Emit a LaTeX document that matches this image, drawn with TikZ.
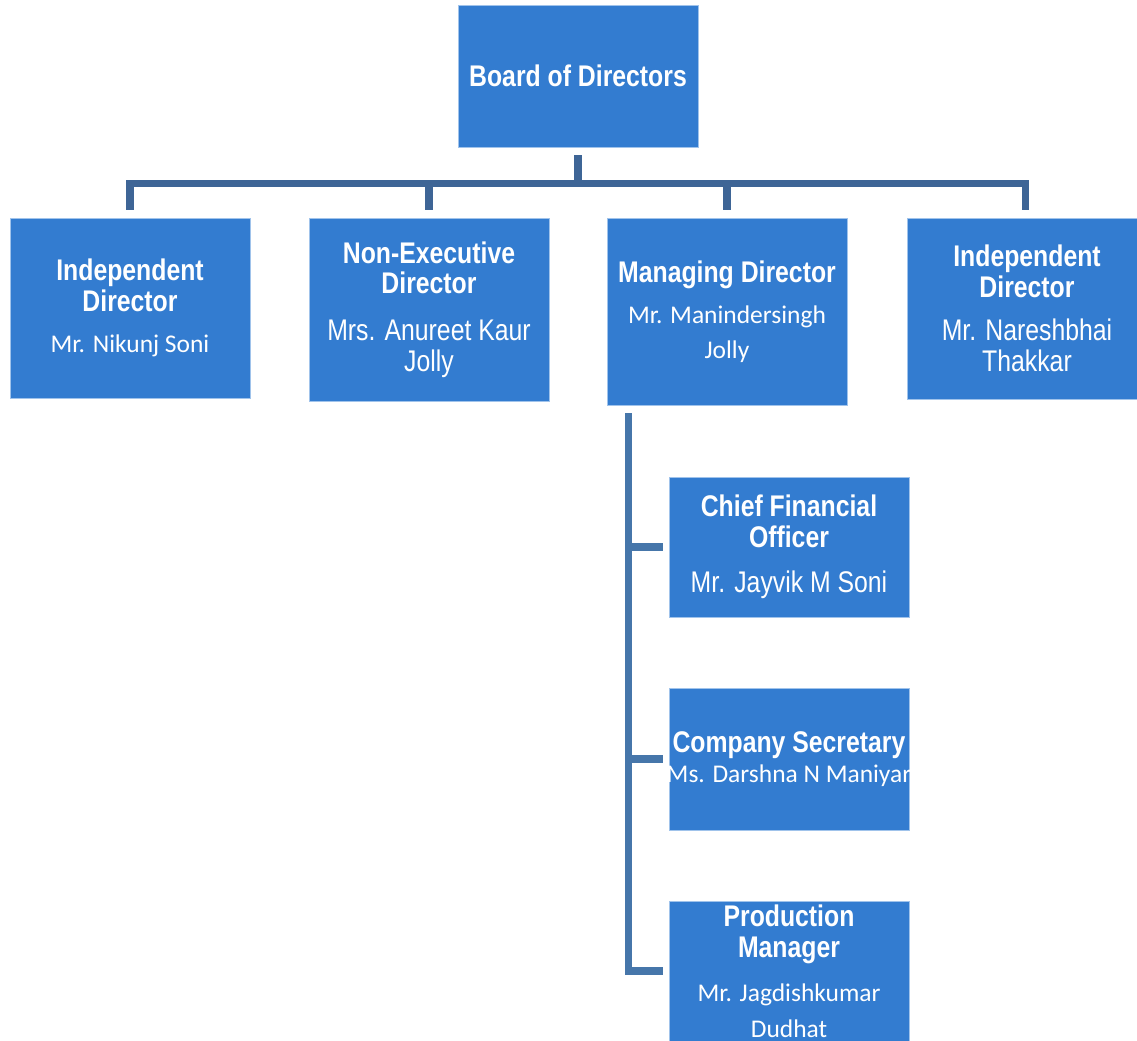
\documentclass[tikz,border=0pt]{standalone}
\usepackage{fontspec}
\usepackage{tikz}
\usetikzlibrary{calc}
\newfontfamily\narrowfont{Liberation Sans}[FakeStretch=0.83]
\newfontfamily\calfont{Carlito}
\newcommand\hd{\narrowfont\bfseries\fontsize{17}{17.5}\selectfont}
\newcommand\nmn{\narrowfont\mdseries\fontsize{17}{17.5}\selectfont}
\newcommand\nmc{\calfont\mdseries\fontsize{14.5}{17.5}\selectfont}
\definecolor{boxblue}{RGB}{51,124,208}
\definecolor{edgeblue}{RGB}{160,195,235}
\definecolor{linkblue}{RGB}{62,101,150}
\definecolor{spineblue}{RGB}{70,118,170}
\begin{document}
\begin{tikzpicture}[x=0.02cm,y=-0.02cm,line join=miter,
  post/.style={fill=boxblue,draw=edgeblue,line width=0.5pt,text=white,align=center,
    font=\hd,minimum width=4.8cm,inner sep=0pt},
  link/.style={linkblue,line width=4pt},
  spine/.style={spineblue,line width=4pt}]
  \useasboundingbox (0,0) rectangle (1137,1041);
  \clip (0,0) rectangle (1137,1041);
  % board and directors
  \node[post,minimum height=2.84cm] (board) at (578,76) {Board of Directors};
  \node[post,minimum height=3.6cm] (d1) at (130,308)
    {Independent\\Director\\[6pt]\nmc Mr. Nikunj Soni};
  \node[post,minimum height=3.66cm] (d2) at (429,309.5)
    {Non-Executive\\Director\\[9pt]\nmn Mrs. Anureet Kaur\\\nmn Jolly};
  \node[post,minimum height=3.74cm] (d3) at (727,311.5)
    {Managing Director\\[6pt]\nmc Mr. Manindersingh\\[2.5pt]\nmc Jolly};
  \node[post,minimum height=3.62cm] (d4) at (1027,308.5)
    {Independent\\Director\\[7pt]\nmn Mr. Nareshbhai\\\nmn Thakkar};
  % officers under the managing director
  \node[post,minimum height=2.8cm] (cfo) at (789,547)
    {Chief Financial\\Officer\\[8pt]\nmn Mr. Jayvik M Soni};
  \node[post,minimum height=2.84cm,inner xsep=-3pt] (cs) at (789,759)
    {Company Secretary\\\nmc Ms. Darshna N Maniyar};
  \node[post,minimum height=2.8cm] (pm) at (789,971)
    {Production\\Manager\\[8pt]\nmc Mr. Jagdishkumar\\[2.5pt]\nmc Dudhat};
  % connectors
  \coordinate (bus) at (578,183.5);
  \draw[link] ($(board.south)+(0,8)$) -- (bus);
  \draw[link] ($(d1.north)+(0,-8)$) |- (bus) -| ($(d4.north)+(-1.5,-8)$);
  \foreach \n in {d2,d3} \draw[link] ($(\n.north)+(0,-8)$) -- (\n.north |- bus);
  \coordinate (top) at ($(d3.south west)+(21.5,8)$);
  \draw[spine] (top) |- ($(pm.west)+(-6,0)$);
  \foreach \n in {cfo,cs} \draw[spine] (top |- \n.west) -- ($(\n.west)+(-6,0)$);
\end{tikzpicture}
\end{document}
